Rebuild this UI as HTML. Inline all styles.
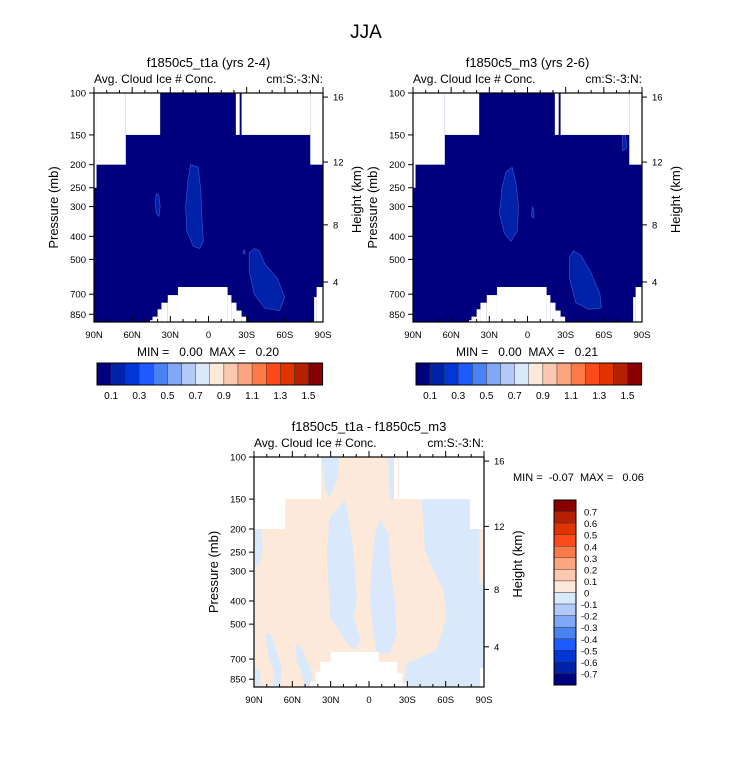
<!DOCTYPE html>
<html><head><meta charset="utf-8">
<style>
body{margin:0;background:#fff;}
svg{display:block;font-family:"Liberation Sans",Arial,sans-serif;}
</style></head>
<body>
<svg id="chart" width="733" height="784" viewBox="0 0 733 784" xmlns="http://www.w3.org/2000/svg">
<text x="366" y="38" font-size="19" text-anchor="middle">JJA</text>
</svg>
<script>
// ---- data ----
const colorLevels = ["0.1","0.3","0.5","0.7","0.9","1.1","1.3","1.5"];
const diffLevels = ["0.7","0.6","0.5","0.4","0.3","0.2","0.1","0","-0.1","-0.2","-0.3","-0.4","-0.5","-0.6","-0.7"];
const palette = ["#00007f","#0022a8","#0036d6","#1e5aff","#4a82f2","#80a8f6","#b2c9fa","#d9e9fb","#fde9d9","#fcc9b0","#fca57f","#fc7a48","#fc4a1b","#e03300","#b52000","#8a0000"];
const pressureTicks = [100,150,200,250,300,400,500,700,850];
const heightTicks = [16,12,8,4];
const heightPressure = [104,195,358,622];
const latTicks = [90,60,30,0,-30,-60,-90];
const latTickLabels = ["90N","60N","30N","0","30S","60S","90S"];
const bottomPressure = 916;
// missing-data top mask: [latFrom, latTo, pressureTop]
const topMaskA = [[90,88,250],[88,65,200],[65,38,150],[38,-21.5,100],[-21.5,-24.5,150],[-24.5,-26,100],[-26,-80,150],[-80,-90,200]];
const topMaskB = [[90,88,250],[88,65,200],[65,38,150],[38,-21.5,100],[-21.5,-24.5,150],[-24.5,-26,100],[-26,-80,150],[-80,-90,200]];
const topMaskD = [[90,65.5,200],[65.5,37.5,150],[37.5,-19.5,100],[-19.5,-22.5,150],[-22.5,-23.5,100],[-23.5,-79,150],[-79,-90,200]];
// surface mask: [latFrom, latTo, pressureSurface]
const surfMask = [[46,44,900],[44,40,870],[40,37,810],[37,32,760],[32,24,706],[24,-15,653],[-15,-18,706],[-18,-22,760],[-22,-26,820],[-26,-30,870],[-83,-85,720],[-85,-90,653]];
const surfMaskD = [[46,42,870],[42,38,790],[38,30,720],[30,-7.5,653],[-7.5,-22,720],[-22,-26,800],[-26,-30,880],[-87,-90,760]];
// contour blobs as [lat, pressure] polygons
const blobsA = [
 [[14,200],[8,205],[6,260],[5,350],[4,420],[7,450],[12,440],[17,380],[18,300],[16,230]],
 [[41,265],[39,270],[38,300],[39,330],[41,320],[42,290]],
 [[-36,450],[-32,470],[-32,560],[-36,700],[-44,800],[-56,820],[-60,720],[-54,600],[-44,520],[-40,460]],
 [[-28,455],[-27,470],[-29,475]]
];
const blobsB = [
 [[12,205],[17,215],[20,250],[22,320],[18,390],[13,420],[8,380],[7,300],[9,240]],
 [[-4,300],[-5,315],[-5,335],[-3,330]],
 [[-36,460],[-33,490],[-33,600],[-38,760],[-48,810],[-58,800],[-57,700],[-50,570],[-42,480]],
 [[-76,128],[-74,135],[-75,175],[-78,170]]
];
// difference plot negative (light blue) regions
const diffNeg = [
 [[90,200],[84,200],[83,240],[86,283],[90,290]],
 [[37.5,100],[23.5,100],[24,120],[30.5,147],[34,140]],
 [[18.8,151],[30.5,178],[33.1,245],[31,396],[30.5,466],[18.8,583],[12,642],[6.9,583],[12.2,466],[9.5,396],[12.2,245],[16.2,178]],
 [[-8.6,181],[-4.7,209],[-2.1,288],[-0.8,396],[-3.4,547],[-6,663],[-16.4,663],[-21.6,547],[-20.3,396],[-16.4,288],[-15.1,209]],
 [[-15,100],[-20,100],[-19.5,150],[-16,150]],
 [[-41.2,150],[-79,150],[-79,200],[-86.5,200],[-86.5,338],[-90,338],[-90,1000],[-26.9,1000],[-29.5,730],[-52.9,642],[-60.7,466],[-58.1,360],[-49,288],[-43.8,245]],
 [[81,540],[76,560],[72,660],[68,760],[70,1000],[76,1000],[74,800],[78,700],[80,620]],
 [[57,600],[52,640],[46,760],[43,1000],[50,1000],[53,800],[57,700]],
 [[90,770],[85,780],[85,1000],[90,1000]]
];
// ---- drawing ----
const svg = document.getElementById('chart');
const NS = "http://www.w3.org/2000/svg";
function mk(tag, attrs, parent){const e=document.createElementNS(NS,tag);for(const k in attrs)e.setAttribute(k,attrs[k]);(parent||svg).appendChild(e);return e;}
function txt(s,x,y,size,anchor,parent){const t=mk('text',{x:x,y:y,'font-size':size,'text-anchor':anchor||'start'},parent);t.textContent=s;return t;}

function panel(cfg){
  const {x0,y0,w,h,bg,top,surf,blobs,blobColor,neg,title,name,hOff}=cfg;
  const g=mk('g',{});
  
  
  const X=lat=>x0+(90-lat)/180*w;
  const Y=p=>Math.min(y0+h, y0+h*Math.log10(p/100)/Math.log10(bottomPressure/100));
  const pts=arr=>arr.map(q=>X(q[0]).toFixed(1)+','+Y(q[1]).toFixed(1)).join(' ');
  const base=mk('rect',{x:x0,y:y0,width:w,height:h,fill:bg},g);
  
  
  (neg||[]).forEach(poly=>{
    const p=mk('polygon',{points:pts(poly),fill:palette[7]},g);
    
    
  });
  (blobs||[]).forEach(poly=>{
    const p=mk('polygon',{points:pts(poly),fill:blobColor,stroke:'#3a5ad0','stroke-width':0.6},g);
    
    
  });
  top.forEach(s=>{
    const r=mk('rect',{x:X(s[0]),y:y0,width:X(s[1])-X(s[0]),height:Y(s[2])-y0,fill:'#fff'},g);
    
    
  });
  surf.forEach(s=>{
    const r=mk('rect',{x:X(s[0]),y:Y(s[2]),width:X(s[1])-X(s[0]),height:y0+h-Y(s[2]),fill:'#fff'},g);
    
    
  });
  mk('rect',{x:x0,y:y0,width:w,height:h,fill:'none',stroke:'#000','stroke-width':1.2},g);
  pressureTicks.forEach(p=>{
    const y=Y(p);
    mk('line',{x1:x0-5,y1:y,x2:x0,y2:y,stroke:'#000'},g);
    txt(String(p),x0-8,y+3.5,9.5,'end',g);
  });
  heightTicks.forEach((hk,i)=>{
    const y=Y(heightPressure[i]);
    mk('line',{x1:x0+w,y1:y,x2:x0+w+5,y2:y,stroke:'#000'},g);
    txt(String(hk),x0+w+10,y+3.5,9.5,'start',g);
  });
  for(let l=90;l>=-90;l-=10){
    const x=X(l), major=l%30===0;
    mk('line',{x1:x,y1:y0+h,x2:x,y2:y0+h-(major?6:3),stroke:'#000'},g);
    mk('line',{x1:x,y1:y0,x2:x,y2:y0-(major?6:3),stroke:'#000'},g);
  }
  latTicks.forEach((l,i)=>txt(latTickLabels[i],X(l),y0+h+16,9.5,'middle',g));
  txt(title,x0+w/2,y0-26,13,'middle',g);
  txt("Avg. Cloud Ice # Conc.",x0,y0-10,12,'start',g);
  txt("cm:S:-3:N:",x0+w,y0-10,12,'end',g);
  const yl=txt("Pressure (mb)",0,0,13,'middle',g);
  yl.setAttribute('transform',`translate(${x0-36},${y0+h/2}) rotate(-90)`);
  const hl=txt("Height (km)",0,0,13,'middle',g);
  hl.setAttribute('transform',`translate(${x0+w+hOff},${y0+h/2-8}) rotate(-90)`);
  return g;
}
panel({x0:94,y0:93,w:229,h:229,bg:palette[0],top:topMaskA,surf:surfMask,blobs:blobsA,blobColor:palette[1],title:"f1850c5_t1a (yrs 2-4)",name:'panel-t1a',hOff:38});
panel({x0:413,y0:93,w:229,h:229,bg:palette[0],top:topMaskB,surf:surfMask,blobs:blobsB,blobColor:palette[1],title:"f1850c5_m3 (yrs 2-6)",name:'panel-m3',hOff:38});
panel({x0:254,y0:457,w:230,h:230,bg:palette[8],top:topMaskD,surf:surfMaskD,neg:diffNeg,title:"f1850c5_t1a - f1850c5_m3",name:'panel-difference',hOff:38});

txt("MIN =\u00a0\u00a0\u00a00.00\u00a0\u00a0MAX =\u00a0\u00a0\u00a00.20",208,356,12,'middle');
txt("MIN =\u00a0\u00a0\u00a00.00\u00a0\u00a0MAX =\u00a0\u00a0\u00a00.21",527,356,12,'middle');
txt("MIN =\u00a0\u00a0-0.07\u00a0\u00a0MAX =\u00a0\u00a0\u00a00.06",513,481,11,'start');

function hbar(x0,name){
  const g=mk('g',{});
  
  
  const bw=14.1;
  palette.forEach((c,i)=>{
    const r=mk('rect',{x:x0+i*bw,y:363,width:bw,height:22,fill:c,stroke:'#333','stroke-width':0.4},g);
    
    
  });
  mk('rect',{x:x0,y:363,width:bw*16,height:22,fill:'none',stroke:'#000','stroke-width':1},g);
  colorLevels.forEach((s,i)=>txt(s,x0+bw*(1+2*i),399,10,'middle',g));
}
hbar(97,'colorbar-t1a');
hbar(416,'colorbar-m3');

const vb=mk('g',{});


const bh=185/16;
for(let i=0;i<16;i++){
  const r=mk('rect',{x:554,y:500+i*bh,width:22,height:bh,fill:palette[15-i],stroke:'#333','stroke-width':0.4},vb);
  
  
}
mk('rect',{x:554,y:500,width:22,height:185,fill:'none',stroke:'#000','stroke-width':1},vb);
diffLevels.forEach((s,i)=>txt(s,s.startsWith('-')?581:584,500+(i+1)*bh+4,9.5,'start',vb));
</script>
</body></html>
